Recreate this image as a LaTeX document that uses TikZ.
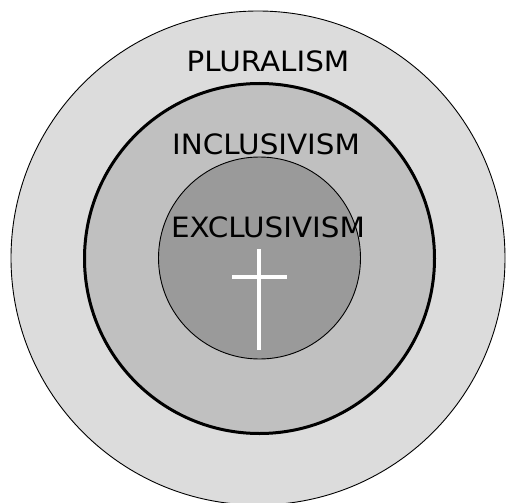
\documentclass[tikz,border=0pt]{standalone}
\usepackage{fontspec}
\newfontfamily\labelfont[FakeStretch=1.05]{DejaVu Sans}
\definecolor{ringA}{HTML}{DCDCDC}
\definecolor{ringB}{HTML}{C0C0C0}
\definecolor{ringC}{HTML}{9A9A9A}
\begin{document}
\begin{tikzpicture}[x=1pt,y=-1pt,
  ring/.style={circle,inner sep=0pt,draw=black},
  lbl/.style={anchor=base,inner sep=0pt,font=\labelfont\fontsize{28}{30}\selectfont},
  crossbar/.style={draw=white,line width=4pt}]
\useasboundingbox (0,0) rectangle (506,503);
\fill[white] (0,0) rectangle (506,503);
\begin{scope}
\clip (0,0) rectangle (506,503);
\node[ring,fill=ringA,line width=0.9pt,minimum size=494pt] (outer) at (258,258) {};
\node[ring,fill=ringB,line width=3pt,minimum size=350pt] (middle) at (259.5,258.5) {};
\node[ring,fill=ringC,line width=0.9pt,minimum size=202pt] (inner) at (259.5,258) {};
\end{scope}
\node[lbl] (plural) at (268,71) {PLURALISM};
\node[lbl] (inclus) at (266,154) {INCLUSIVISM};
\node[lbl] (exclus) at (268,237) {EXCLUSIVISM};
\coordinate (vtop) at (259,249);
\coordinate (vbot) at (259,350);
\coordinate (hl) at (232,277);
\coordinate (hr) at (287,277);
\draw[crossbar] (vtop) -- (vbot);
\draw[crossbar] (hl) -- (hr);
\end{tikzpicture}
\end{document}
